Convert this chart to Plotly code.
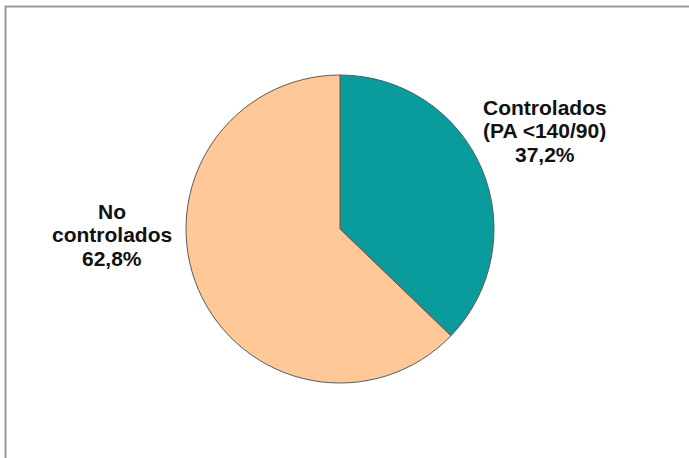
import plotly.graph_objects as go

labels = ["Controlados (PA <140/90)", "No controlados"]
values = [37.2, 62.8]
colors = ["#0A9C9C", "#FFC896"]
label_lines = [["Controlados", "(PA <140/90)", "37,2%"], ["No", "controlados", "62,8%"]]

W, H = 689, 458
cx, cy, r = 340, 229, 154

fig = go.Figure(go.Pie(
    labels=labels, values=values, sort=False, direction="clockwise", rotation=0,
    marker=dict(colors=colors, line=dict(color="#5a5a5a", width=1)),
    textinfo="none", hoverinfo="label+percent", showlegend=False,
    domain=dict(x=[(cx - r) / W, (cx + r) / W], y=[(H - cy - r) / H, (H - cy + r) / H]),
))

label_pos = [(544.5, 107.5, 23.3), (112, 211.5, 23.3)]
for lines, (x, y0, dy) in zip(label_lines, label_pos):
    for i, t in enumerate(lines):
        fig.add_annotation(x=x / W, y=1 - (y0 + i * dy) / H, xref="paper", yref="paper",
                           text="<b>" + t + "</b>", showarrow=False,
                           xanchor="center", yanchor="middle",
                           font=dict(family="Liberation Sans, Arial", size=21, color="#111111"))

fig.add_shape(type="rect", xref="paper", yref="paper", x0=5.5 / W, y0=-0.05, x1=1.05, y1=1 - 6.5 / H,
              line=dict(color="#9a9a9a", width=2), fillcolor="rgba(0,0,0,0)")

fig.update_layout(width=W, height=H, margin=dict(l=0, r=0, t=0, b=0),
                  paper_bgcolor="white", plot_bgcolor="white")
fig.write_html("out.html", config={"displayModeBar": False},
               post_script="document.body.style.margin='0';")
